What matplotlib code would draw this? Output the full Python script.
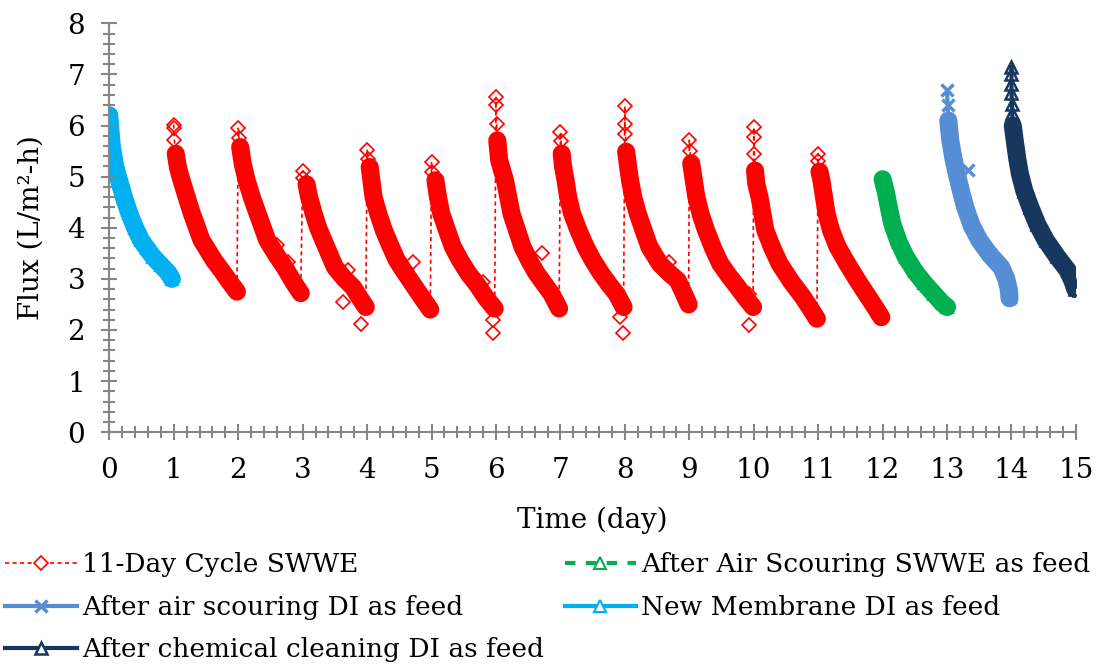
import numpy as np
import matplotlib.pyplot as plt
from matplotlib.ticker import MultipleLocator
from matplotlib.lines import Line2D

plt.rcParams['font.family'] = 'DejaVu Serif'

# New membrane, DI as feed (day 0-1)
new_t = [0.0, 0.01, 0.04, 0.09, 0.15, 0.23, 0.31, 0.40, 0.49, 0.58, 0.68, 0.80, 0.92, 0.97]
new_flux = [6.2, 6.0, 5.58, 5.2, 4.93, 4.58, 4.28, 4.0, 3.76, 3.6, 3.43, 3.27, 3.11, 3.0]

# 11-day cycle SWWE (day 1-12), cycles one after another
swwe_t = [1.0, 1.0, 1.01, 1.03, 1.07, 1.12, 1.20, 1.28, 1.43, 1.62, 1.75, 1.85, 1.98,
          2.0, 2.01, 2.03, 2.07, 2.13, 2.21, 2.30, 2.45, 2.60, 2.72, 2.85, 2.97,
          3.0, 3.01, 3.06, 3.10, 3.17, 3.24, 3.32, 3.50, 3.65, 3.78, 3.90, 3.98,
          4.0, 4.01, 4.04, 4.10, 4.18, 4.26, 4.36, 4.46, 4.60, 4.74, 4.87, 4.98,
          5.0, 5.01, 5.06, 5.10, 5.15, 5.24, 5.33, 5.45, 5.57, 5.70, 5.85, 5.98,
          6.0, 6.0, 6.01, 6.02, 6.05, 6.10, 6.14, 6.24, 6.41, 6.52, 6.63, 6.75, 6.86, 6.98,
          7.0, 7.01, 7.02, 7.04, 7.08, 7.12, 7.18, 7.28, 7.39, 7.50, 7.63, 7.75, 7.87, 7.98,
          8.0, 8.0, 8.01, 8.02, 8.05, 8.08, 8.13, 8.20, 8.29, 8.38, 8.54, 8.70, 8.82, 8.92, 8.99,
          9.0, 9.01, 9.03, 9.11, 9.18, 9.26, 9.37, 9.48, 9.62, 9.75, 9.88, 9.99,
          10.0, 10.0, 10.01, 10.02, 10.04, 10.09, 10.18, 10.29, 10.40, 10.58, 10.76, 10.88, 10.98,
          11.0, 11.0, 11.02, 11.05, 11.13, 11.20, 11.30, 11.45, 11.61, 11.75, 11.88, 11.98]
swwe_flux = [6.02, 5.95, 5.71, 5.45, 5.15, 4.93, 4.6, 4.28, 3.76, 3.37, 3.15, 2.97, 2.75,
             5.95, 5.75, 5.58, 5.25, 4.93, 4.6, 4.28, 3.76, 3.45, 3.23, 2.95, 2.72,
             5.11, 4.98, 4.85, 4.6, 4.28, 4.0, 3.76, 3.23, 3.0, 2.84, 2.6, 2.45,
             5.53, 5.35, 5.19, 4.6, 4.25, 3.95, 3.65, 3.37, 3.1, 2.84, 2.6, 2.4,
             5.29, 5.1, 4.93, 4.6, 4.28, 3.95, 3.63, 3.35, 3.11, 2.9, 2.62, 2.42,
             6.55, 6.4, 6.04, 5.71, 5.32, 5.1, 4.93, 4.28, 3.63, 3.35, 3.11, 2.9, 2.71, 2.42,
             5.87, 5.7, 5.45, 5.2, 4.93, 4.6, 4.28, 3.95, 3.63, 3.37, 3.11, 2.9, 2.71, 2.45,
             6.38, 6.04, 5.84, 5.49, 5.2, 4.93, 4.6, 4.28, 3.95, 3.63, 3.3, 3.1, 2.97, 2.7, 2.5,
             5.71, 5.5, 5.26, 4.6, 4.25, 3.95, 3.6, 3.3, 3.05, 2.84, 2.62, 2.45,
             5.97, 5.77, 5.45, 5.12, 4.86, 4.6, 3.95, 3.6, 3.3, 2.95, 2.65, 2.42, 2.22,
             5.45, 5.3, 5.1, 4.93, 4.28, 3.95, 3.63, 3.3, 2.97, 2.7, 2.45, 2.25]
# stray SWWE readings
swwe_out_t = [2.60, 2.78, 3.63, 3.70, 3.91, 4.72, 5.80, 5.95, 5.95, 6.72, 7.92, 7.97, 8.69, 9.93, 9.93]
swwe_out_flux = [3.66, 3.33, 2.55, 3.17, 2.11, 3.33, 2.94, 2.19, 1.95, 3.5, 2.26, 1.95, 3.33, 2.09, 2.71]

# after air scouring, SWWE as feed (day 12-13)
green_t = [12.0, 12.02, 12.05, 12.10, 12.15, 12.25, 12.36, 12.50, 12.65, 12.80, 12.93, 13.0]
green_flux = [4.95, 4.85, 4.7, 4.38, 4.08, 3.72, 3.43, 3.15, 2.91, 2.7, 2.52, 2.45]

# after air scouring, DI as feed (day 13-14)
blue_t = [13.0, 13.01, 13.02, 13.05, 13.10, 13.15, 13.21, 13.28, 13.38, 13.50, 13.66, 13.84, 13.92, 13.96, 13.97]
blue_flux = [6.69, 6.4, 6.1, 5.71, 5.35, 5.06, 4.75, 4.41, 4.05, 3.76, 3.48, 3.23, 3.0, 2.78, 2.62]
blue_out_t = [13.32]
blue_out_flux = [5.13]

# after chemical cleaning, DI as feed (day 14-15)
navy_t = [14.0, 14.0, 14.0, 14.0, 14.01, 14.01, 14.02, 14.05, 14.09, 14.13, 14.20, 14.29, 14.40, 14.53, 14.70, 14.87, 14.95, 14.99]
navy_flux = [7.15, 7.0, 6.82, 6.63, 6.43, 6.24, 6.0, 5.71, 5.35, 5.06, 4.72, 4.41, 4.07, 3.76, 3.45, 3.17, 2.95, 2.8]

red = '#FF0000'
green = '#00B050'
blue = '#558ED5'
cyan = '#00B0F0'
navy = '#17375E'

fig = plt.figure(figsize=(10.99, 6.68), dpi=100)
ax = fig.add_axes([0.0995, 0.353, 0.8795, 0.612])


def band(t, f, color, skip=0.015):
    # the dense readings look like a thick band; the first few
    # readings of a run stand apart as single markers
    t = np.asarray(t)
    f = np.asarray(f)
    keep = t - t[0] >= skip
    ax.plot(t[keep], f[keep], color=color, lw=13, solid_capstyle='round',
            solid_joinstyle='round', zorder=1)


band(new_t, new_flux, cyan, skip=0)
band(green_t, green_flux, green, skip=0)
band(blue_t, blue_flux, blue)
band(navy_t, navy_flux, navy)
st = np.array(swwe_t)
sf = np.array(swwe_flux)
cuts = np.where(np.diff(sf) > 1.5)[0] + 1
for seg_t, seg_f in zip(np.split(st, cuts), np.split(sf, cuts)):
    band(seg_t, seg_f, red)

red_ls = (0, (2.5, 2))
green_ls = (0, (2.5, 2.5))
ax.plot(swwe_t, swwe_flux, color=red, ls=red_ls, lw=1.2, marker='D', ms=7,
        mfc='none', mec=red, mew=1.2, zorder=3)
ax.plot(swwe_out_t, swwe_out_flux, ls='none', marker='D', ms=7, mfc='none', mec=red, mew=1.2, zorder=3)
ax.plot(green_t, green_flux, color=green, ls=green_ls, lw=3, marker='^', ms=8,
        mfc='none', mec=green, mew=1.5, zorder=3)
ax.plot(blue_t, blue_flux, color=blue, lw=3, marker='x', ms=9, mew=2.5, zorder=3)
ax.plot(blue_out_t, blue_out_flux, ls='none', color=blue, marker='x', ms=9, mew=2.5, zorder=3)
ax.plot(new_t, new_flux, color=cyan, lw=3, marker='^', ms=8, mfc='none', mec=cyan, mew=1.5, zorder=3)
ax.plot(navy_t, navy_flux, color=navy, lw=3, marker='^', ms=9, mfc='none', mec=navy, mew=1.8, zorder=3)

ax.set_xlim(0, 15)
ax.set_ylim(0, 8)
ax.xaxis.set_major_locator(MultipleLocator(1))
ax.xaxis.set_minor_locator(MultipleLocator(0.2))
ax.yaxis.set_major_locator(MultipleLocator(1))
ax.yaxis.set_minor_locator(MultipleLocator(0.2))
ax.tick_params(which='both', direction='inout', color='#868686', width=1.5, labelsize=20)
ax.tick_params(which='major', length=11)
ax.tick_params(which='minor', length=9)
ax.tick_params(axis='x', pad=12)
ax.tick_params(axis='y', pad=12)
for s in ['top', 'right']:
    ax.spines[s].set_visible(False)
for s in ['left', 'bottom']:
    ax.spines[s].set_color('#868686')
    ax.spines[s].set_linewidth(1.5)

ax.set_xlabel('Time (day)', fontsize=20, labelpad=17)
ax.set_ylabel('Flux (L/m²-h)', fontsize=20, labelpad=16)

handles = [
    Line2D([], [], color=red, ls=red_ls, lw=1.2, marker='D', ms=7, mfc='white', mec=red, mew=1.2),
    Line2D([], [], color=blue, lw=3, marker='x', ms=9, mew=2.5),
    Line2D([], [], color=navy, lw=3, marker='^', ms=9, mfc='white', mec=navy, mew=1.8),
    Line2D([], [], color=green, ls=green_ls, lw=3, marker='^', ms=8, mfc='white', mec=green, mew=1.5),
    Line2D([], [], color=cyan, lw=3, marker='^', ms=8, mfc='white', mec=cyan, mew=1.5),
]
labels = ['11-Day Cycle SWWE', 'After air scouring DI as feed', 'After chemical cleaning DI as feed',
          'After Air Scouring SWWE as feed', 'New Membrane DI as feed']
fig.legend(handles=handles, labels=labels, ncol=2,
           loc='upper left', bbox_to_anchor=(0.0, 0.181), frameon=False, fontsize=19,
           handlelength=2.7, handletextpad=0.2, columnspacing=0.8, labelspacing=0.66,
           borderpad=0.2, borderaxespad=0)

fig.savefig('out.png', dpi=100)
